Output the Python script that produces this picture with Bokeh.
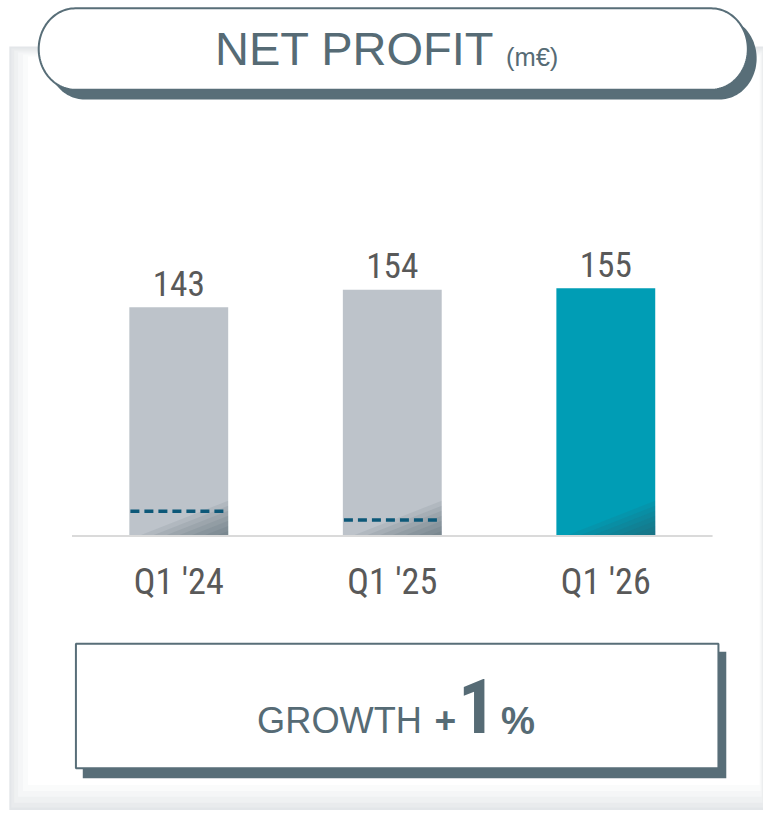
import numpy as np
from bokeh.plotting import figure
from bokeh.models import Range1d
from bokeh.core.properties import value
from bokeh.embed import file_html
from bokeh.resources import INLINE

# ---- data ----
categories = ["Q1 '24", "Q1 '25", "Q1 '26"]
net_profit = [143, 154, 155]
dashed_marks = [15.5, 10.0, None]
bar_colors = ["#bdc3ca", "#bdc3ca", "#009db5"]
title_main = "NET PROFIT"
title_unit = "(m€)"
growth_label = "GROWTH"
growth_sign = "+"
growth_value = "1"
growth_unit = "%"

# ---- layout: frame spans the 779x826 design, drawn at 763x810 ----
DW, DH = 779, 826
W, H = 763, 810
S = W / DW  # screen px per design px
BL = 0.37   # baseline correction (em)


def fs(px):
    return "%.1fpx" % (px * S)


SLATE = "#586e78"
TXT = "#566b75"
NUM = "#595959"
COND = "Roboto Condensed"
SANS = "Liberation Sans"

p = figure(width=W, height=H, output_backend="svg", toolbar_location=None,
           x_range=Range1d(0, DW), y_range=Range1d(DH, 0),
           x_axis_type=None, y_axis_type=None, min_border=0)
p.outline_line_color = None
p.background_fill_color = "white"
p.border_fill_color = "white"

PX_PER_VAL = 1.63
ZERO_Y = 546
PX_PER_CAT = 218.0
FIRST_X = 182
p.extra_y_ranges = {"val": Range1d(start=(ZERO_Y - DH) / PX_PER_VAL,
                                   end=ZERO_Y / PX_PER_VAL)}
x0c = -FIRST_X / PX_PER_CAT
p.extra_x_ranges = {"cat": Range1d(start=x0c, end=x0c + DW / PX_PER_CAT)}

# ---- background panel with soft edge ----
layers = [(9, 779, 47, 826, "#e3e6e9"), (11, 779, 49, 823, "#e9ebed"),
          (14, 778, 51, 818, "#eff1f2"), (18, 777, 53, 812, "#f5f6f7"),
          (23, 776, 55, 806, "#fafbfb"), (28, 775, 57, 800, "#ffffff")]
for l, r, t, b, c in layers:
    p.quad(left=l, right=r, top=t, bottom=b, fill_color=c, line_color=None)


def stadium(x0, y0, x1, y1, n=60):
    r = (y1 - y0) / 2.0
    rx = r * 0.9
    cy = (y0 + y1) / 2.0
    a = np.linspace(-np.pi / 2, np.pi / 2, n)
    rxs = list(x1 - rx + rx * np.cos(a))
    rys = list(cy + r * np.sin(a))
    a2 = np.linspace(np.pi / 2, 3 * np.pi / 2, n)
    lxs = list(x0 + rx + rx * np.cos(a2))
    lys = list(cy + r * np.sin(a2))
    return rxs + lxs, rys + lys


sx, sy = stadium(48, 17, 772, 101)
p.patch(sx, sy, fill_color=SLATE, line_color=None)
mx, my = stadium(39, 8, 763, 91)
p.patch(mx, my, fill_color="white", line_color=SLATE, line_width=2)


def label(x, y, txt, size, font=SANS, bold=False, corr=BL):
    p.text(x=[x], y=[y - corr * size], text=[txt], text_font=value(font),
           text_font_size=fs(size), text_font_style="bold" if bold else "normal",
           text_color=TXT, text_align="left", text_baseline="alphabetic")


label(219, 67, title_main, 48)
label(516, 66, title_unit, 26, corr=0.34)

# ---- bars ----
idx = list(range(len(categories)))
BW = 0.463
p.vbar(x=idx, top=net_profit, bottom=0, width=BW, fill_color=bar_colors,
       line_color=None, x_range_name="cat", y_range_name="val")

# corner shading (soft gradient in bottom-right of each bar)
nl = 7
for i in idx:
    right = i + BW / 2
    xs, ys = [], []
    for k in range(nl):
        s = 1 - k / nl
        xs.append([right, right - 0.42 * s, right])
        ys.append([0, 0, 22 * s])
    p.patches(xs, ys, fill_color="#3c4f58", fill_alpha=0.09, line_color=None,
              x_range_name="cat", y_range_name="val")

# dashed marks
for i, d in zip(idx, dashed_marks):
    if d is None:
        continue
    p.segment(x0=[i - BW / 2 + 0.005], x1=[i + BW / 2 - 0.005], y0=[d], y1=[d],
              line_color="#0d5878", line_width=3.5, line_dash="9 5",
              x_range_name="cat", y_range_name="val")

# baseline
p.segment(x0=[-0.5], x1=[len(categories) - 0.5], y0=[0], y1=[0], line_color="#dadada",
          line_width=2, x_range_name="cat", y_range_name="val")

# value labels
VS = 36
p.text(x=idx, y=net_profit, text=[str(v) for v in net_profit], y_offset=(-11 - BL * VS) * S,
       text_font=value(COND), text_font_size=fs(VS), text_color=NUM,
       text_align="center", text_baseline="alphabetic",
       x_range_name="cat", y_range_name="val")

# category labels
CS = 37
p.text(x=idx, y=[0] * len(idx), text=categories, y_offset=(60 - BL * CS) * S,
       text_font=value(COND), text_font_size=fs(CS), text_color=NUM,
       text_align="center", text_baseline="alphabetic",
       x_range_name="cat", y_range_name="val")

# ---- growth box ----
p.quad(left=84, right=741, top=664, bottom=793, fill_color=SLATE, line_color=None)
p.quad(left=77, right=733, top=656, bottom=783, fill_color="white",
       line_color=SLATE, line_width=2)
label(262, 748, growth_label, 37)
label(443, 748, growth_sign, 38, bold=True)
label(467, 748, growth_value, 77, font=COND, bold=True)
label(511, 749, growth_unit, 39, bold=True)

open("out.html", "w").write(file_html(p, INLINE))
